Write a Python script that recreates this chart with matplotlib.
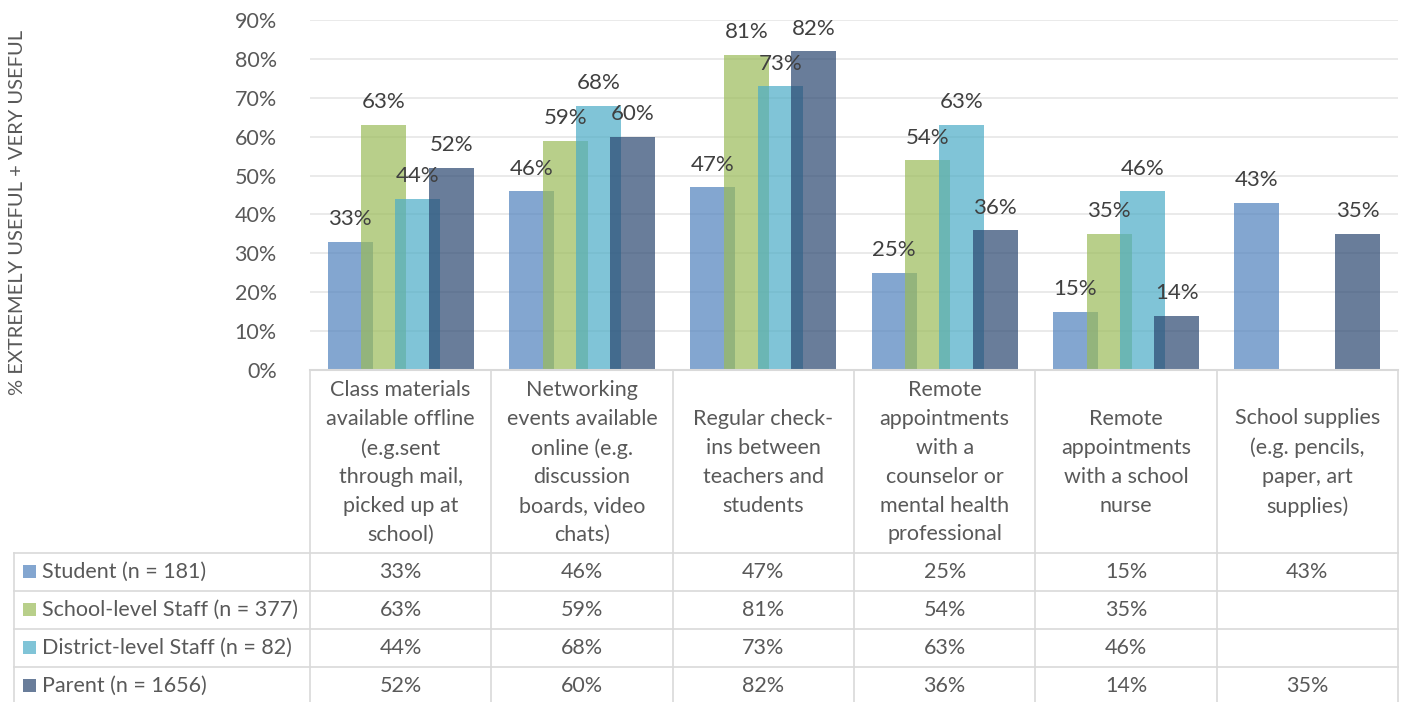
import matplotlib.pyplot as plt
import numpy as np

plt.rcParams['font.family'] = ['Lato', 'DejaVu Sans']

categories = [
    "Class materials\navailable offline\n(e.g.sent\nthrough mail,\npicked up at\nschool)",
    "Networking\nevents available\nonline (e.g.\ndiscussion\nboards, video\nchats)",
    "Regular check-\nins between\nteachers and\nstudents",
    "Remote\nappointments\nwith a\ncounselor or\nmental health\nprofessional",
    "Remote\nappointments\nwith a school\nnurse",
    "School supplies\n(e.g. pencils,\npaper, art\nsupplies)",
]
series_names = ["Student (n = 181)", "School-level Staff (n = 377)",
                "District-level Staff (n = 82)", "Parent (n = 1656)"]
student = [33, 46, 47, 25, 15, 43]
school_staff = [63, 59, 81, 54, 35, None]
district_staff = [44, 68, 73, 63, 46, None]
parent = [52, 60, 82, 36, 14, 35]
series = [student, school_staff, district_staff, parent]
colors = ['#4F81BD', '#9BBB59', '#4BACC6', '#2A4670']

W, H = 1404, 702
fig = plt.figure(figsize=(W / 100, H / 100), dpi=100)

# plot area in pixels
x0, x1 = 310, 1398
y_top, y_base = 20, 370
ax = fig.add_axes([x0 / W, 1 - y_base / H, (x1 - x0) / W, (y_base - y_top) / H])

n = len(categories)
x = np.arange(n)
step = 0.186
width = 0.248
for i, (vals, c) in enumerate(zip(series, colors)):
    off = (i - 1.5) * step
    for j, v in enumerate(vals):
        if v is None:
            continue
        ax.bar(x[j] + off, v / 100, width=width, color=c, alpha=0.7, linewidth=0, zorder=2)
        ax.annotate(f"{v}%", (x[j] + off, v / 100), xytext=(0, 9), textcoords='offset points',
                    ha='center', va='bottom', fontsize=16, color='#404040', zorder=3)

ax.set_xlim(-0.5, n - 0.5)
ax.set_ylim(0, 0.9)
yt = np.arange(0, 1.0, 0.1)
ax.set_yticks(yt)
ax.set_yticklabels([f"{int(round(t * 100))}%" for t in yt], fontsize=15.5, color='#595959')
ax.tick_params(axis='y', length=0, pad=24)
ax.set_xticks([])
ax.grid(axis='y', color='#e6e6e6', linewidth=1.2, zorder=0)
ax.set_axisbelow(True)
for s in ax.spines.values():
    s.set_visible(False)

fig.text(18 / W, 1 - 212 / H, "% EXTREMELY USEFUL + VERY USEFUL", rotation=90,
         ha='center', va='center', fontsize=14.5, color='#595959')

# data table drawn in pixel coordinates
tab = fig.add_axes([0, 0, 1, 1])
tab.set_xlim(0, W)
tab.set_ylim(H, 0)
tab.axis('off')
tab.patch.set_alpha(0)

col_w = (x1 - x0) / n
row_top = 553
row_h = 38
line_c = '#d9d9d9'
left = 14

# header row
tab.plot([x0, x1], [y_base, y_base], color=line_c, lw=1.5)
for k in range(n + 1):
    xx = x0 + k * col_w
    tab.plot([xx, xx], [y_base, H], color=line_c, lw=1.2)
for j, lab in enumerate(categories):
    tab.text(x0 + (j + 0.5) * col_w, (y_base + row_top) / 2 + 1, lab, ha='center', va='center',
             fontsize=15.5, color='#595959', linespacing=1.55)

# data rows
tab.plot([left, left], [row_top, H], color=line_c, lw=1.2)
for r in range(len(series) + 1):
    yy = row_top + r * row_h
    tab.plot([left, x1], [yy, yy], color=line_c, lw=1.2)
for r, (name, vals, c) in enumerate(zip(series_names, series, colors)):
    yc = row_top + (r + 0.5) * row_h
    tab.add_patch(plt.Rectangle((23, yc - 7), 13, 13, color=c, alpha=0.7, lw=0))
    tab.text(42, yc, name, ha='left', va='center', fontsize=15.5, color='#595959')
    for j, v in enumerate(vals):
        if v is None:
            continue
        tab.text(x0 + (j + 0.5) * col_w, yc, f"{v}%", ha='center', va='center',
                 fontsize=15.5, color='#595959')

fig.savefig('out.png', dpi=100)
